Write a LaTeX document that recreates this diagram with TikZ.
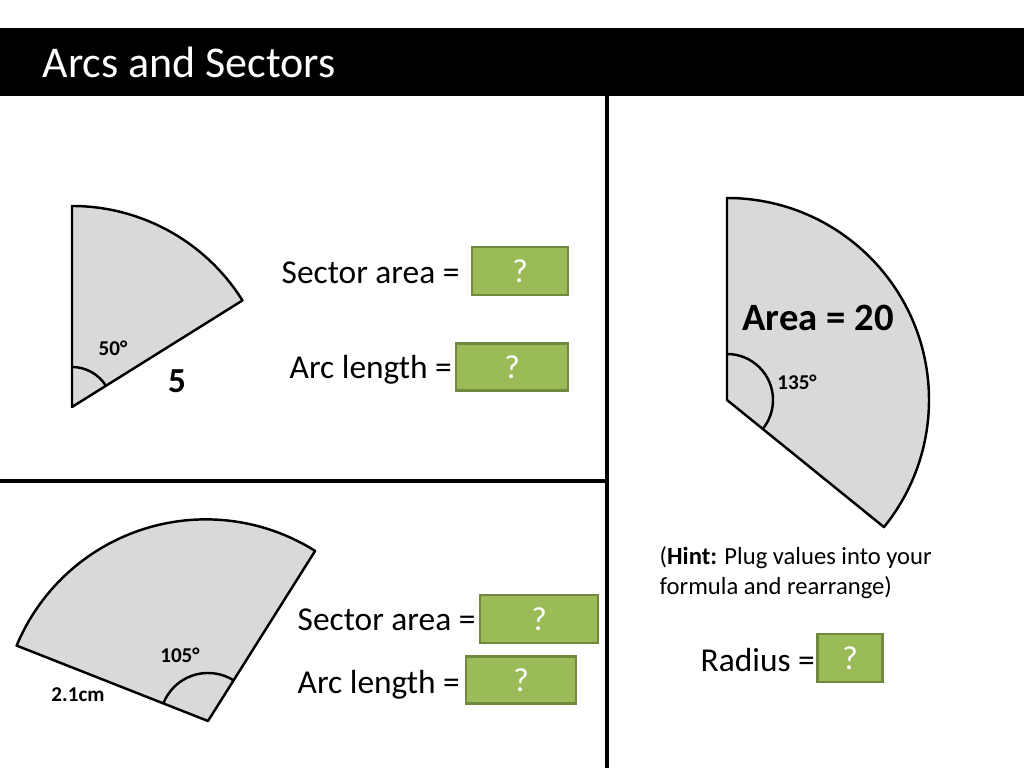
\documentclass[tikz,border=0pt]{standalone}
\usepackage{fontspec}
\setmainfont{Carlito}
\usetikzlibrary{positioning, calc}
\definecolor{boxgreen}{HTML}{9BBB59}
\definecolor{boxedge}{HTML}{71893F}
\definecolor{sectorgrey}{HTML}{D9D9D9}
\begin{document}
\begin{tikzpicture}[x=0.01cm, y=-0.01cm]
  \tikzset{
    sector/.style={line width=0.7pt, draw=black, fill=sectorgrey, line join=round},
    anglemark/.style={line width=0.7pt},
    divider/.style={line width=1.4pt},
    answer/.style={draw=boxedge, fill=boxgreen, line width=0.6pt, text=white, font=\fontsize{9.5}{11}\selectfont, inner sep=0pt},
    prompt/.style={font=\fontsize{9.5}{11}\selectfont, anchor=west, inner sep=0pt},
    small/.style={font=\fontsize{6}{7}\selectfont\bfseries, inner sep=0pt}
  }
  \useasboundingbox (0,0) rectangle (1024,768);

  % Title bar
  \fill[black] (0,28) rectangle (1024,96);
  \node[anchor=west, text=white, font=\fontsize{12.5}{14}\selectfont, inner sep=0pt] (title) at (42,62) {Arcs and Sectors};

  % Dividers
  \draw[divider] (607,96) -- (607,768);
  \draw[divider] (0,481) -- (607,481);

  % Sector with 50 degrees
  \coordinate (A1) at (72,407);
  \draw[sector] (A1) -- ++(-90:201) arc[start angle=-90, end angle=-32, radius=201] -- cycle;
  \draw[anglemark] ($(A1)+(-90:40)$) arc[start angle=-90, end angle=-32, radius=40];
  \node[small] (deg1) at (113,348) {50°};
  \node[font=\fontsize{10}{12}\selectfont\bfseries, inner sep=0pt] (rad1) at (177,381) {5};
  \node[prompt] (sa1) at (281,273) {Sector area =};
  \node[answer, minimum width=0.96cm, minimum height=0.48cm] (q1) at (520,271) {?};
  \node[prompt] (al1) at (289,370) {Arc length =};
  \node[answer, minimum width=1.12cm, minimum height=0.47cm] (q2) at (512,367) {?};

  % Sector with 135 degrees
  \coordinate (A2) at (727,400);
  \draw[sector] (A2) -- ++(-90:202) arc[start angle=-90, end angle=39, radius=202] -- cycle;
  \draw[anglemark] ($(A2)+(-90:46)$) arc[start angle=-90, end angle=39, radius=46];
  \node[font=\fontsize{11}{13}\selectfont\bfseries, inner sep=0pt] (area) at (818,318) {Area = 20};
  \node[small] (deg2) at (797,382) {135°};

  % Sector with 105 degrees
  \coordinate (A3) at (208,721);
  \draw[sector] (A3) -- ++(-57.8:201) arc[start angle=-57.8, end angle=-157.4, radius=205] -- cycle;
  \draw[anglemark] ($(A3)+(-57.8:48)$) arc[start angle=-57.8, end angle=-157.4, radius=48];
  \node[small] (deg3) at (180,655) {105°};
  \node[small] (rad3) at (78,695) {2.1cm};
  \node[prompt] (sa2) at (297,620) {Sector area =};
  \node[answer, minimum width=1.18cm, minimum height=0.48cm] (q3) at (539,619) {?};
  \node[prompt] (al2) at (297,685) {Arc length =};
  \node[answer, minimum width=1.10cm, minimum height=0.47cm] (q4) at (521,680) {?};

  % Hint and radius
  \node[anchor=west, font=\fontsize{7}{8.5}\selectfont, align=left, inner sep=0pt] (hint) at (659,573)
    {(\textbf{Hint:} Plug values into your\\formula and rearrange)};
  \node[prompt] (radius) at (700,660) {Radius =};
  \node[answer, minimum width=0.65cm, minimum height=0.48cm] (q5) at (850,658) {?};
\end{tikzpicture}
\end{document}
